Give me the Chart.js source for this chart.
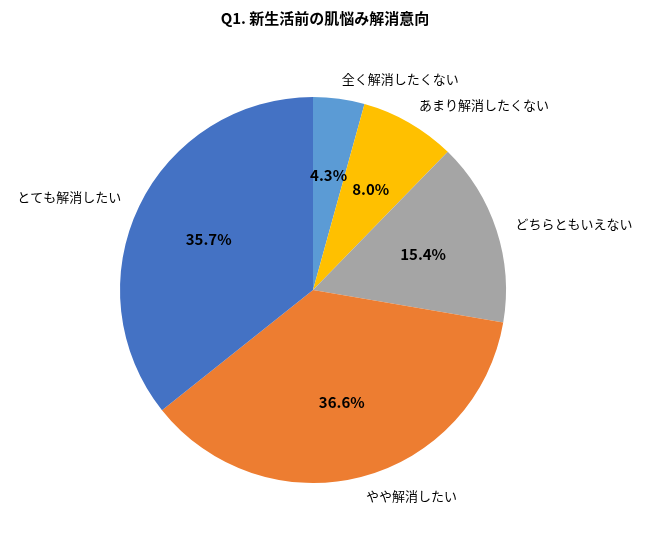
<!DOCTYPE html>
<html>
<head>
<meta charset="utf-8">
<script src="https://cdn.jsdelivr.net/npm/chart.js@4"></script>
<style>
  body { margin: 0; background: #fff; }
  #wrap { width: 650px; height: 541px; }
</style>
</head>
<body>
<div id="wrap"><canvas id="c" width="650" height="541"></canvas></div>
<script>
// Q1. 新生活前の肌悩み解消意向
const titre = "Q1. 新生活前の肌悩み解消意向";
const categories = ["全く解消したくない", "あまり解消したくない", "どちらともいえない", "やや解消したい", "とても解消したい"];
const valeurs = [4.3, 8.0, 15.4, 36.6, 35.7];
const couleurs = ["#5B9BD5", "#FFC000", "#A5A5A5", "#ED7D31", "#4472C4"];

const police = '"Noto Sans CJK JP", "Noto Sans", sans-serif';

const etiquettes = {
  id: "etiquettes",
  afterDraw(chart) {
    const ctx = chart.ctx;
    ctx.save();
    ctx.fillStyle = "#000";
    ctx.textAlign = "center";
    ctx.textBaseline = "middle";
    ctx.font = "bold 15px " + police;
    ctx.fillText(titre, 325, 18);

    chart.getDatasetMeta(0).data.forEach((arc, i) => {
      const mid = (arc.startAngle + arc.endAngle) / 2;
      const r = arc.outerRadius;
      // pourcentage à l'intérieur
      ctx.font = "bold 15px " + police;
      ctx.textAlign = "center";
      ctx.fillText(valeurs[i].toFixed(1) + "%", arc.x + Math.cos(mid) * r * 0.6, arc.y + Math.sin(mid) * r * 0.6);
      // catégorie à l'extérieur
      const x = arc.x + Math.cos(mid) * (r + 20);
      const y = arc.y + Math.sin(mid) * (r + 20);
      ctx.font = "13px " + police;
      ctx.textAlign = x >= arc.x ? "left" : "right";
      ctx.fillText(categories[i], x, y);
    });
    ctx.restore();
  }
};

new Chart(document.getElementById("c"), {
  type: "pie",
  data: {
    labels: categories,
    datasets: [{
      data: valeurs,
      backgroundColor: couleurs,
      borderWidth: 0
    }]
  },
  options: {
    responsive: false,
    animation: false,
    layout: { padding: { top: 97, bottom: 58, left: 120, right: 144 } },
    plugins: {
      legend: { display: false },
      tooltip: { enabled: false }
    }
  },
  plugins: [etiquettes]
});
</script>
</body>
</html>
